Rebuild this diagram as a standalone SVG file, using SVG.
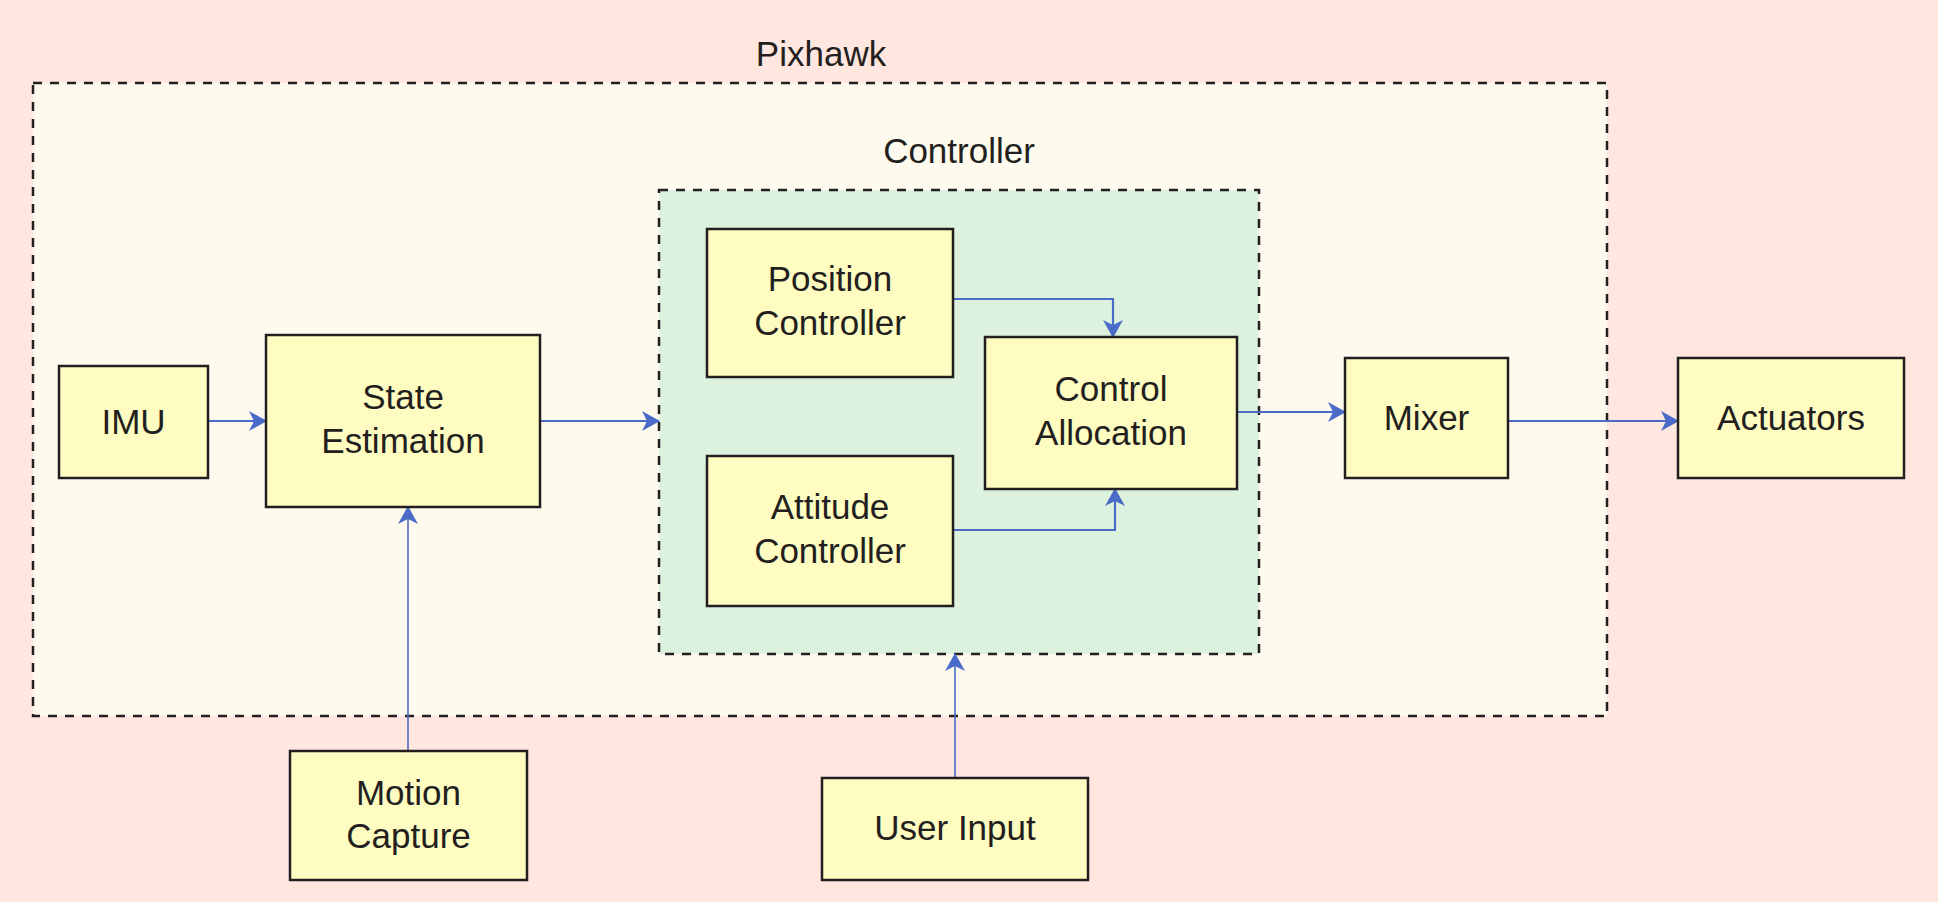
<svg xmlns="http://www.w3.org/2000/svg" width="1938" height="902" viewBox="0 0 1938 902">
<style>
.t{font-family:"Liberation Sans",Arial,Helvetica,sans-serif;font-size:35px;fill:#231F20;text-anchor:middle}
.box{fill:#FEFCC0;stroke:#231F20;stroke-width:2.5}
.grp{stroke:#231F20;stroke-width:2.5;stroke-dasharray:9 8}
.c{fill:none;stroke:#4A6CC8;stroke-width:2.2;marker-end:url(#ah)}
</style>
<defs>
<marker id="ah" viewBox="0 0 18 20" refX="17" refY="10" markerWidth="18" markerHeight="20" markerUnits="userSpaceOnUse" orient="auto">
<path d="M0,0 L18,10 L0,20 L5,10 z" fill="#4A6CC8"/>
</marker>
</defs>
<rect width="1938" height="902" fill="#FFE6DF"/>
<g id="pixhawk">
<rect class="grp" x="33" y="83" width="1574" height="633" fill="#FEFBEE"/>
<text class="t" x="821" y="66">Pixhawk</text>
</g>
<g id="controller">
<rect class="grp" x="659" y="190" width="600" height="464" fill="#DDF2DE"/>
<text class="t" x="959" y="163">Controller</text>
</g>
<g id="connectors">
<path class="c" d="M208,421 H266"/>
<path class="c" d="M540,421 H659"/>
<path class="c" d="M953,299 H1113 V337"/>
<path class="c" d="M953,530 H1115 V489"/>
<path class="c" d="M1237,412 H1345"/>
<path class="c" d="M1508,421 H1678"/>
<path class="c" d="M408,751 V507" style="stroke-width:1.6"/>
<path class="c" d="M955,778 V654" style="stroke-width:1.6"/>
</g>
<g id="imu">
<rect class="box" x="59" y="366" width="149" height="112"/>
<text class="t" x="133.5" y="434">IMU</text>
</g>
<g id="state-estimation">
<rect class="box" x="266" y="335" width="274" height="172"/>
<text class="t" x="403" y="409">State</text>
<text class="t" x="403" y="453">Estimation</text>
</g>
<g id="position-controller">
<rect class="box" x="707" y="229" width="246" height="148"/>
<text class="t" x="830" y="291">Position</text>
<text class="t" x="830" y="335">Controller</text>
</g>
<g id="attitude-controller">
<rect class="box" x="707" y="456" width="246" height="150"/>
<text class="t" x="830" y="519">Attitude</text>
<text class="t" x="830" y="563">Controller</text>
</g>
<g id="control-allocation">
<rect class="box" x="985" y="337" width="252" height="152"/>
<text class="t" x="1111" y="401">Control</text>
<text class="t" x="1111" y="445">Allocation</text>
</g>
<g id="mixer">
<rect class="box" x="1345" y="358" width="163" height="120"/>
<text class="t" x="1426.5" y="430">Mixer</text>
</g>
<g id="actuators">
<rect class="box" x="1678" y="358" width="226" height="120"/>
<text class="t" x="1791" y="430">Actuators</text>
</g>
<g id="motion-capture">
<rect class="box" x="290" y="751" width="237" height="129"/>
<text class="t" x="408.5" y="805">Motion</text>
<text class="t" x="408.5" y="848">Capture</text>
</g>
<g id="user-input">
<rect class="box" x="822" y="778" width="266" height="102"/>
<text class="t" x="955" y="840">User Input</text>
</g>
</svg>
